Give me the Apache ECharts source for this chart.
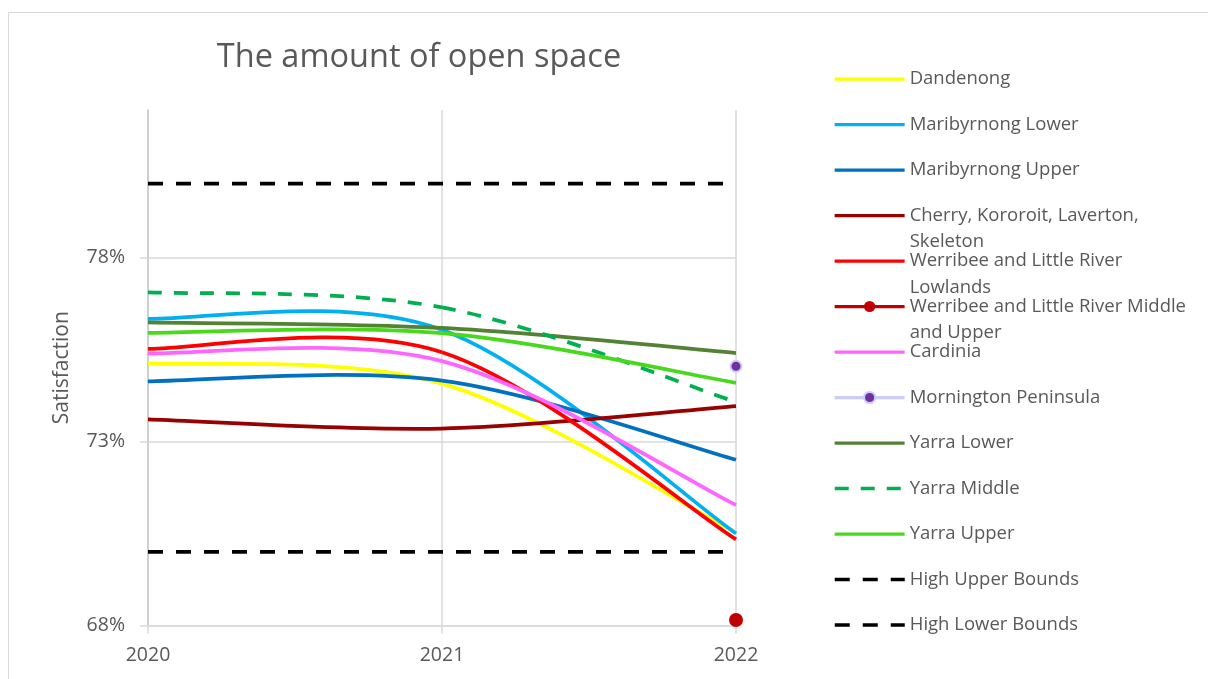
<!DOCTYPE html>
<html><head><meta charset="utf-8">
<script src="https://cdn.jsdelivr.net/npm/echarts@6/dist/echarts.min.js"></script>
<style>html,body{margin:0;padding:0;background:#fff}#c{width:1208px;height:679px}</style>
</head><body><div id="c"></div>
<script>
// ---- data ----
const years = ['2020', '2021', '2022'];
const dandenong = [75.12, 74.57, 70.52];
const maribyrnongLower = [76.33, 76.03, 70.50];
const maribyrnongUpper = [74.63, 74.65, 72.50];
const cherryKororoit = [73.60, 73.35, 73.96];
const werribeeLowlands = [75.51, 75.42, 70.34];
const werribeeMiddleUpper = [null, null, 68.15];
const cardinia = [75.39, 75.18, 71.27];
const mornington = [null, null, 75.04];
const yarraLower = [76.23, 76.08, 75.40];
const yarraMiddle = [77.05, 76.64, 74.07];
const yarraUpper = [75.95, 75.94, 74.59];
const highUpperBounds = [80, 80, 80];
const highLowerBounds = [70, 70, 70];
const yTickValues = [68, 73, 78];

const FONT = 'Open Sans';
const TXT = '#595959';

const defs = [
  {name: 'Dandenong', data: dandenong, color: '#ffff00', curve: true},
  {name: 'Maribyrnong Lower', data: maribyrnongLower, color: '#00b0f0', curve: true},
  {name: 'Maribyrnong Upper', data: maribyrnongUpper, color: '#0070c0', curve: true},
  {name: 'Cherry, Kororoit, Laverton, Skeleton', label: 'Cherry, Kororoit, Laverton,\nSkeleton', data: cherryKororoit, color: '#990000', curve: true},
  {name: 'Werribee and Little River Lowlands', label: 'Werribee and Little River\nLowlands', data: werribeeLowlands, color: '#ff0000', curve: true},
  {name: 'Werribee and Little River Middle and Upper', label: 'Werribee and Little River Middle\nand Upper', data: werribeeMiddleUpper, color: '#c00000', marker: {size: 14, fill: '#c00000'}},
  {name: 'Cardinia', data: cardinia, color: '#ff66ff', curve: true},
  {name: 'Mornington Peninsula', data: mornington, color: '#ccccff', marker: {size: 11, fill: '#7030a0', border: '#ccccff', bw: 2}},
  {name: 'Yarra Lower', data: yarraLower, color: '#548235', curve: true},
  {name: 'Yarra Middle', data: yarraMiddle, color: '#00b050', dash: [14, 12], curve: true},
  {name: 'Yarra Upper', data: yarraUpper, color: '#48d81c', curve: true},
  {name: 'High Upper Bounds', data: highUpperBounds, color: '#000000', dash: [15, 13]},
  {name: 'High Lower Bounds', data: highLowerBounds, color: '#000000', dash: [15, 13]}
];

// Excel-like smoothed line: Catmull-Rom segments, positions mapped through the axes (api.coord)
function makeCurveRenderer(values, color, width, dash) {
  return function (params, api) {
    const i = params.dataIndex;
    const n = values.length;
    if (i >= n - 1) return null;
    const P = k => api.coord([Math.max(0, Math.min(n - 1, k)), values[Math.max(0, Math.min(n - 1, k))]]);
    const p0 = P(i - 1), p1 = P(i), p2 = P(i + 1), p3 = P(i + 2);
    return {
      type: 'bezierCurve',
      shape: {
        x1: p1[0], y1: p1[1], x2: p2[0], y2: p2[1],
        cpx1: p1[0] + (p2[0] - p0[0]) / 6, cpy1: p1[1] + (p2[1] - p0[1]) / 6,
        cpx2: p2[0] - (p3[0] - p1[0]) / 6, cpy2: p2[1] - (p3[1] - p1[1]) / 6
      },
      style: {fill: null, stroke: color, lineWidth: width, lineDash: dash || null, lineCap: 'butt'},
      silent: true
    };
  };
}

const series = [];
defs.forEach(d => {
  const width = d.dash ? 3.75 : 3.75;
  const s = {
    name: d.name, type: 'line', data: d.curve ? [] : d.data, smooth: false,
    lineStyle: {color: d.color, width: width, type: d.dash || 'solid', cap: 'butt'},
    itemStyle: {color: d.color},
    symbol: 'none', animation: false, emphasis: {disabled: true}, silent: true
  };
  if (d.marker) {
    s.symbol = 'circle';
    s.showSymbol = true;
    s.symbolSize = d.marker.size;
    s.itemStyle = {color: d.marker.fill, borderColor: d.marker.border || d.marker.fill, borderWidth: d.marker.bw || 0};
  }
  series.push(s);
  if (d.curve) {
    series.push({
      name: d.name, type: 'custom', coordinateSystem: 'cartesian2d',
      data: d.data.map((v, i) => [i, v]),
      encode: {x: 0, y: 1},
      renderItem: makeCurveRenderer(d.data, d.color, width, d.dash),
      animation: false, silent: true
    });
  }
});

const LH = 26.5, IH = 14;
const legends = defs.map((d, i) => {
  const center = 79 + i * 45.5;
  const multi = !!d.label;
  const blockH = multi ? 3 * LH : LH;
  const text = multi ? '\n' + d.label : d.name;
  const lg = {
    show: true, orient: 'vertical', left: 833, top: center - blockH / 2, padding: 0,
    itemWidth: 70, itemHeight: IH, selectedMode: false,
    data: [d.name],
    formatter: () => text,
    textStyle: {fontFamily: FONT, fontSize: 18.5, color: TXT, lineHeight: LH},
    lineStyle: {width: d.dash ? 3.5 : 3.25}
  };
  if (!d.marker) lg.itemStyle = {opacity: 0, borderWidth: 0};
  else lg.itemStyle = {borderWidth: d.marker.bw || 0};
  return lg;
});

const chart = echarts.init(document.getElementById('c'), null, {renderer: 'canvas'});
chart.setOption({
  backgroundColor: '#ffffff',
  animation: false,
  title: {
    text: 'The amount of open space', left: 419, top: 41, padding: 0, textAlign: 'center',
    textStyle: {fontFamily: FONT, fontSize: 32.5, fontWeight: 'normal', color: TXT}
  },
  graphic: [{type: 'rect', shape: {x: 8.5, y: 12.5, width: 1400, height: 800}, style: {fill: 'none', stroke: '#d9d9d9', lineWidth: 1}, silent: true, z: -10}],
  legend: legends,
  grid: {left: 148, right: 472, top: 110, bottom: 53.5, containLabel: false},
  xAxis: {
    type: 'category', data: years, boundaryGap: false,
    axisLine: {show: true, lineStyle: {color: '#d9d9d9', width: 1.5}},
    axisTick: {show: true, length: 8, lineStyle: {color: '#d9d9d9', width: 1.5}},
    axisLabel: {fontFamily: FONT, fontSize: 19.5, color: TXT, margin: 20},
    splitLine: {show: true, lineStyle: {color: '#d9d9d9', width: 1.5}}
  },
  yAxis: {
    type: 'value', min: 68, max: 82, interval: 5,
    name: 'Satisfaction', nameLocation: 'middle', nameGap: 75,
    nameTextStyle: {fontFamily: FONT, fontSize: 21, color: TXT},
    axisLine: {show: true, lineStyle: {color: '#c8c8c8', width: 1.5}},
    axisTick: {show: true, length: 8, customValues: yTickValues, lineStyle: {color: '#d9d9d9', width: 1.5}},
    axisLabel: {fontFamily: FONT, fontSize: 19.5, color: TXT, margin: 23, customValues: yTickValues, formatter: v => v + '%'},
    splitLine: {show: true, lineStyle: {color: ['#d9d9d9', '#d9d9d9', '#d9d9d9', 'rgba(0,0,0,0)'], width: 1.5}}
  },
  series: series
});
</script></body></html>
